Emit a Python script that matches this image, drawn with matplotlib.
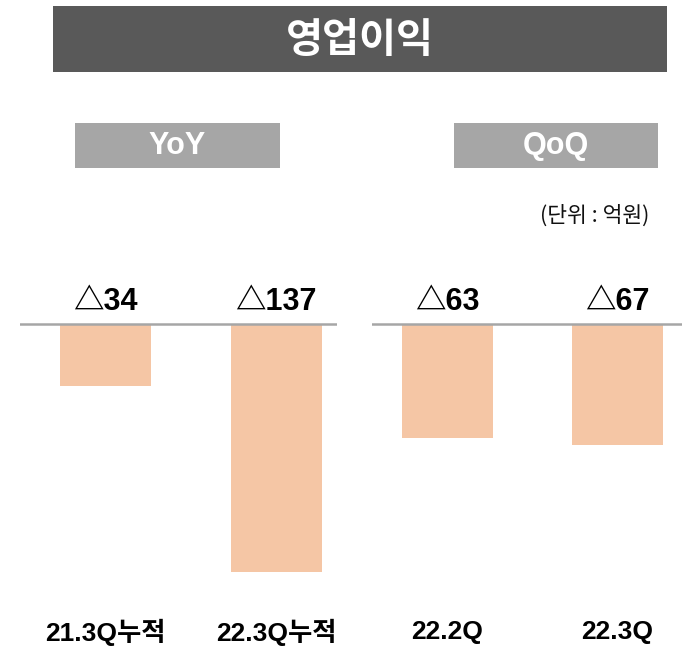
import matplotlib
matplotlib.use("Agg")
import matplotlib.pyplot as plt
from matplotlib.patches import Rectangle
import matplotlib.transforms as mtransforms

# ---- data ----
yoy_categories = ["21.3Q누적", "22.3Q누적"]
yoy_values = [-34, -137]
qoq_categories = ["22.2Q", "22.3Q"]
qoq_values = [-63, -67]
title = "영업이익"
panel_titles = ["YoY", "QoQ"]
unit_text = "(단위 : 억원)"

W, H = 682, 650
FONT = ["Liberation Sans", "Noto Sans CJK KR", "DejaVu Sans"]
plt.rcParams["font.family"] = FONT

fig = plt.figure(figsize=(W / 100, H / 100), dpi=100)


def fx(x):
    return x / W


def fy(y):
    return 1 - y / H


def box(x0, y0, x1, y1, color):
    fig.patches.append(Rectangle((fx(x0), fy(y1)), fx(x1) - fx(x0), fy(y0) - fy(y1),
                                 transform=fig.transFigure, facecolor=color,
                                 edgecolor="none", zorder=0))


# title bar
box(53, 6, 667, 72, "#595959")
fig.text(fx(360), fy(41), title, color="white", fontsize=29, fontweight="bold",
         ha="center", va="center", family=["Noto Sans CJK KR", "DejaVu Sans"])

# panel header boxes
box(75, 123, 280, 168, "#A6A6A6")
box(454, 123, 658, 168, "#A6A6A6")
fig.text(fx(177), fy(146), panel_titles[0], color="white", fontsize=22, fontweight="bold",
         ha="center", va="center")
fig.text(fx(556), fy(146), panel_titles[1], color="white", fontsize=22, fontweight="bold",
         ha="center", va="center")

# unit text
fig.text(fx(649), fy(216), unit_text, fontsize=15.5, ha="right", va="center",
         family=["Noto Sans CJK KR", "DejaVu Sans"], color="#111111")

# axes setup: baseline y=324 px, 1.81 px per unit
PX_PER_UNIT = 1.81
AX_TOP, AX_BOT = 270, 600
ylim = (-(AX_BOT - 324) / PX_PER_UNIT, (324 - AX_TOP) / PX_PER_UNIT)


def make_panel(px_left, px_right, centers_px, cats, vals):
    ax = fig.add_axes([fx(px_left), fy(AX_BOT), fx(px_right) - fx(px_left),
                       fy(AX_TOP) - fy(AX_BOT)])
    spacing = centers_px[1] - centers_px[0]
    xs = list(range(len(vals)))
    ax.set_xlim((px_left - centers_px[0]) / spacing, (px_right - centers_px[0]) / spacing)
    ax.set_ylim(*ylim)
    ax.bar(xs, vals, width=91 / spacing, color="#F5C6A5", zorder=2)
    ax.axhline(0, color="#A6A6A6", lw=1.8, zorder=3)
    for s in ax.spines.values():
        s.set_visible(False)
    ax.set_xticks([])
    ax.set_yticks([])
    ax.patch.set_alpha(0)
    for x, v in zip(xs, vals):
        ax.annotate("△" + str(abs(v)), (x, 0), xytext=(0, 5), textcoords="offset points",
                    ha="center", va="bottom", fontsize=22, fontweight="bold")
    trans = mtransforms.blended_transform_factory(ax.transData, fig.transFigure)
    for x, c in zip(xs, cats):
        ax.text(x, fy(632), c, transform=trans, ha="center", va="center",
                fontsize=19, fontweight="bold")
    return ax


make_panel(20, 337, [105, 276], yoy_categories, yoy_values)
make_panel(372, 682, [447, 617], qoq_categories, qoq_values)

fig.savefig("out.png", dpi=100)
